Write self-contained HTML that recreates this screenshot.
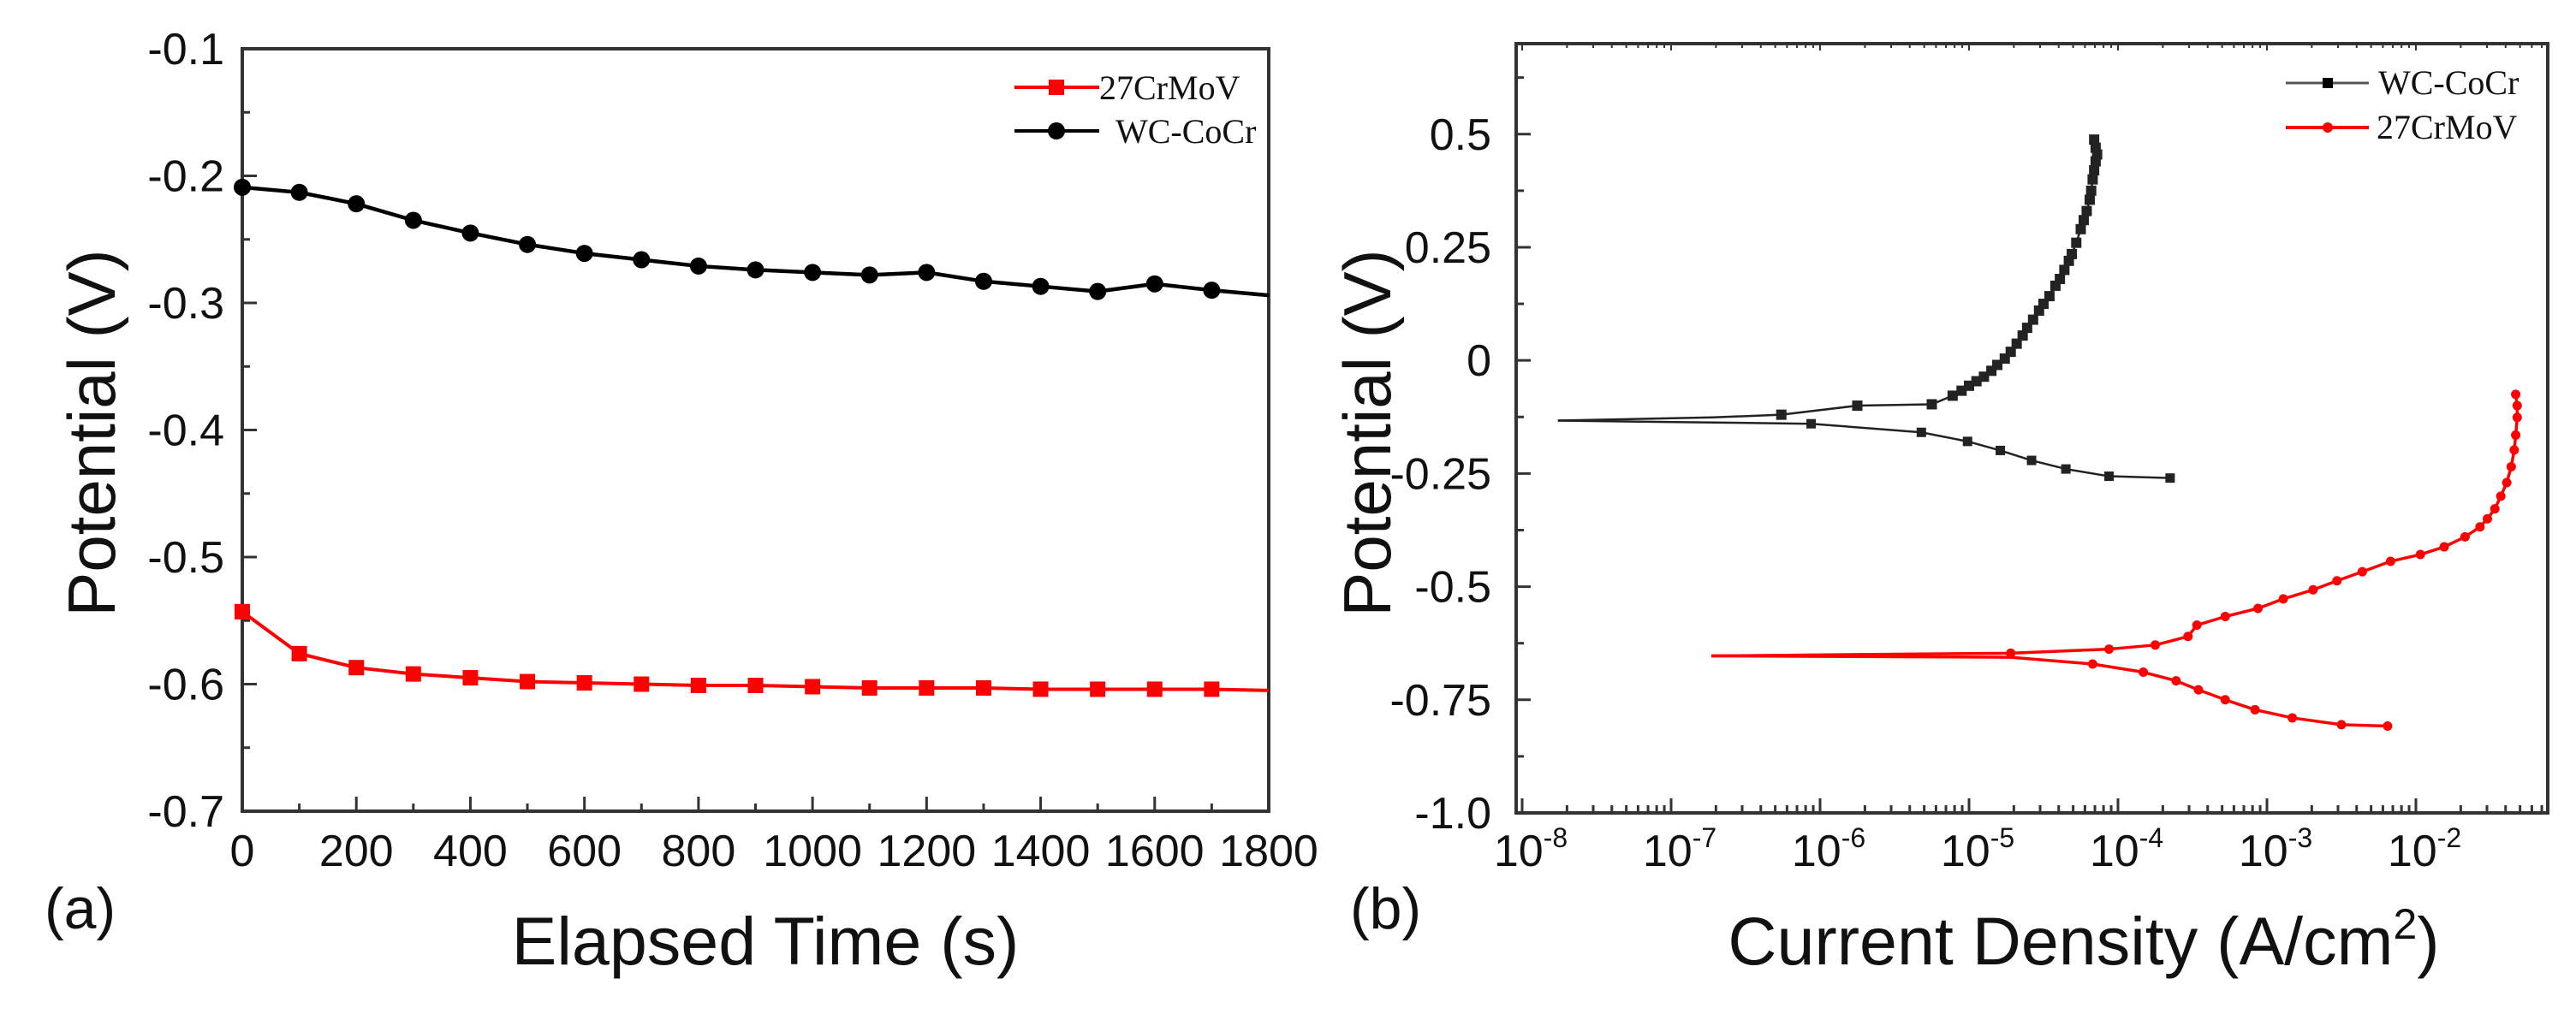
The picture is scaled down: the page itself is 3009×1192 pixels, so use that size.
<!DOCTYPE html>
<html><head><meta charset="utf-8"><style>
html,body{margin:0;padding:0;background:#fff;}
svg{display:block;font-family:"Liberation Sans",Arial,sans-serif;}
.leg{font-family:"Liberation Serif","Times New Roman",serif;}
</style></head><body>
<svg id="fig" width="3009" height="1192" viewBox="0 0 3009 1192">
<g id="pa"></g>
<g id="pb"></g>
</svg>
<script>
// ---- Panel (a) data ----
const aTimes = [0,100,200,300,400,500,600,700,800,900,1000,1100,1200,1300,1400,1500,1600,1700,1800];
const aWC = [-0.209,-0.213,-0.222,-0.235,-0.245,-0.254,-0.261,-0.266,-0.271,-0.274,-0.276,-0.278,-0.276,-0.283,-0.287,-0.291,-0.285,-0.290,-0.294];
const aCr = [-0.543,-0.576,-0.587,-0.592,-0.595,-0.598,-0.599,-0.600,-0.601,-0.601,-0.602,-0.603,-0.603,-0.603,-0.604,-0.604,-0.604,-0.604,-0.605];
const aXTicks = [0,200,400,600,800,1000,1200,1400,1600,1800];
const aYTicks = [-0.1,-0.2,-0.3,-0.4,-0.5,-0.6,-0.7];
// ---- Panel (b) data (x = log10 current density) ----
const bWCcathLog = [-7.76,-6.06,-5.32,-5.01,-4.79,-4.58,-4.35,-4.06,-3.65];
const bWCcathV = [-0.133,-0.140,-0.159,-0.179,-0.199,-0.221,-0.240,-0.256,-0.260];
const bWCanLog = [-7.76,-6.72,-6.26,-5.75,-5.25,-5.11,-5.05,-5.0,-4.95,-4.9,-4.85,-4.81,-4.76,-4.72,-4.68,-4.64,-4.61,-4.57,-4.53,-4.5,-4.46,-4.42,-4.39,-4.36,-4.33,-4.31,-4.28,-4.25,-4.23,-4.21,-4.19,-4.18,-4.17,-4.16,-4.15,-4.14,-4.15,-4.16];
const bWCanV = [-0.133,-0.126,-0.120,-0.100,-0.097,-0.078,-0.067,-0.056,-0.046,-0.036,-0.023,-0.010,0.004,0.019,0.037,0.055,0.072,0.090,0.110,0.125,0.142,0.165,0.180,0.200,0.220,0.235,0.260,0.290,0.310,0.330,0.355,0.375,0.400,0.420,0.440,0.455,0.470,0.488];
const bCrCathLog = [-6.73,-4.72,-4.17,-3.83,-3.61,-3.46,-3.28,-3.08,-2.83,-2.5,-2.19];
const bCrCathV = [-0.653,-0.656,-0.671,-0.689,-0.708,-0.728,-0.750,-0.772,-0.790,-0.805,-0.808];
const bCrAnLog = [-6.73,-4.72,-4.06,-3.75,-3.53,-3.47,-3.28,-3.06,-2.89,-2.69,-2.53,-2.36,-2.17,-1.97,-1.81,-1.67,-1.57,-1.52,-1.47,-1.43,-1.39,-1.36,-1.34,-1.33,-1.32,-1.32,-1.33];
const bCrAnV = [-0.653,-0.647,-0.638,-0.629,-0.610,-0.585,-0.566,-0.548,-0.527,-0.507,-0.487,-0.467,-0.444,-0.429,-0.412,-0.390,-0.368,-0.350,-0.328,-0.300,-0.270,-0.235,-0.198,-0.165,-0.126,-0.100,-0.075];
const bXTicks = [-8,-7,-6,-5,-4,-3,-2];
const bYTicks = [0.5,0.25,0,-0.25,-0.5,-0.75,-1.0];
const bYLabels = ["0.5","0.25","0","-0.25","-0.5","-0.75","-1.0"];

const NS="http://www.w3.org/2000/svg";
function mk(parent,tag,attrs,text){const e=document.createElementNS(NS,tag);for(const k in attrs)e.setAttribute(k,attrs[k]);if(text!==undefined)e.textContent=text;parent.appendChild(e);return e;}

// ================= Panel a =================
const pa=document.getElementById('pa');
const aL=283,aR=1482,aT=57,aB=948;
const ax=t=>aL+(t-0)/(1800-0)*(aR-aL);
const ay=v=>aT+(-0.1-v)/(0.6)*(aB-aT);
let fr=mk(pa,'rect',{x:aL,y:aT,width:aR-aL,height:aB-aT,fill:'none',stroke:'#333',"stroke-width":4});


for(let t=0;t<=1800;t+=100){const maj=t%200===0;
 let l=mk(pa,'line',{x1:ax(t),x2:ax(t),y1:aB,y2:aB-(maj?17:9),stroke:'#333',"stroke-width":3});
 
 }
for(let i=0;i<=12;i++){const v=-0.1-i*0.05;const maj=i%2===0;
 let l=mk(pa,'line',{x1:aL,x2:aL+(maj?17:9),y1:ay(v),y2:ay(v),stroke:'#333',"stroke-width":3});
 
 }
aXTicks.forEach(t=>{let e=mk(pa,'text',{x:ax(t),y:1012,"font-size":52,"text-anchor":"middle",fill:'#111'},String(t));
 
 });
aYTicks.forEach(v=>{let e=mk(pa,'text',{x:262,y:ay(v)+18,"font-size":52,"text-anchor":"end",fill:'#111'},v.toFixed(1));
 
 });
let t1=mk(pa,'text',{x:0,y:0,"font-size":78,"text-anchor":"middle",transform:"translate(134,506) rotate(-90)",fill:'#111'},"Potential (V)");


let t2=mk(pa,'text',{x:894,y:1127,"font-size":79,"text-anchor":"middle",fill:'#111'},"Elapsed Time (s)");


let t3=mk(pa,'text',{x:52,y:1085,"font-size":68,fill:'#111'},"(a)");


function series(g,xs,ys,fx,fy,color,w,marker,size,name,markAll){
 let p=mk(g,'polyline',{points:xs.map((x,i)=>fx(x)+','+fy(ys[i])).join(' '),fill:'none',stroke:color,"stroke-width":w,"stroke-linejoin":"round"});
 
 
 xs.forEach((x,i)=>{ if(!markAll(i))return; let m;
  if(marker==='sq') m=mk(g,'rect',{x:fx(x)-size/2,y:fy(ys[i])-size/2,width:size,height:size,fill:color});
  else m=mk(g,'circle',{cx:fx(x),cy:fy(ys[i]),r:size/2,fill:color});
  
  });
}
series(pa,aTimes,aWC,ax,ay,'#000',4.5,'ci',20,'wc-cocr-a',i=>i<aTimes.length-1);
series(pa,aTimes,aCr,ax,ay,'#f00',4,'sq',18,'27crmov-a',i=>i<aTimes.length-1);
// legend a
let lg=mk(pa,'g',{});


mk(lg,'line',{x1:1185,x2:1284,y1:102,y2:102,stroke:'#f00',"stroke-width":4});
mk(lg,'rect',{x:1225,y:93,width:18,height:18,fill:'#f00'});
let le1=mk(lg,'text',{x:1284,y:116,"font-size":40,class:'leg',fill:'#111'},"27CrMoV");


mk(lg,'line',{x1:1185,x2:1284,y1:153,y2:153,stroke:'#000',"stroke-width":4});
mk(lg,'circle',{cx:1234,cy:153,r:10,fill:'#000'});
let le2=mk(lg,'text',{x:1303,y:167,"font-size":40,class:'leg',fill:'#111'},"WC-CoCr");



// ================= Panel b =================
const pb=document.getElementById('pb');
const bL=1771,bR=2976,bT=51,bB=950;
const bx=lg10=>1778+(lg10+8)*174;
const by=v=>bT+(0.70-v)/1.70*(bB-bT);
let fr2=mk(pb,'rect',{x:bL,y:bT,width:bR-bL,height:bB-bT,fill:'none',stroke:'#333',"stroke-width":4});


for(let d=-8;d<=-2;d++){for(let k=1;k<=9;k++){const lv=d+Math.log10(k);const xx=bx(lv);if(xx>bR)continue;
 let l=mk(pb,'line',{x1:xx,x2:xx,y1:bB,y2:bB-(k===1?17:9),stroke:'#333',"stroke-width":3});
 
 
 let l2=mk(pb,'line',{x1:xx,x2:xx,y1:bT,y2:bT+(k===1?8:5),stroke:'#333',"stroke-width":2});
 
 }}
for(let i=0;i<=13;i++){const v=0.625-i*0.125;const maj=i%2===1;
 let l=mk(pb,'line',{x1:bL,x2:bL+(maj?17:9),y1:by(v),y2:by(v),stroke:'#333',"stroke-width":3});
 
 }
bXTicks.forEach(d=>{let e=mk(pb,'text',{x:bx(d)+10,y:1012,"font-size":52,"text-anchor":"middle",fill:'#111'});
 mk(e,'tspan',{},"10");mk(e,'tspan',{"font-size":32,dy:-22},String(d));
 
 });
bYTicks.forEach((v,i)=>{let e=mk(pb,'text',{x:1742,y:by(v)+18,"font-size":52,"text-anchor":"end",fill:'#111'},bYLabels[i]);
 
 });
let u1=mk(pb,'text',{x:0,y:0,"font-size":78,"text-anchor":"middle",transform:"translate(1624,506) rotate(-90)",fill:'#111'},"Potential (V)");


let u2=mk(pb,'text',{x:2434,y:1127,"font-size":79,"text-anchor":"middle",fill:'#111'});
mk(u2,'tspan',{},"Current Density (A/cm");mk(u2,'tspan',{"font-size":50,dy:-30},"2");mk(u2,'tspan',{dy:30},")");


let u3=mk(pb,'text',{x:1577,y:1085,"font-size":68,fill:'#111'},"(b)");


series(pb,bWCcathLog,bWCcathV,bx,by,'#222',2.5,'sq',11,'wc-cocr-cathodic',i=>i>0);
series(pb,bWCanLog,bWCanV,bx,by,'#222',2.5,'sq',12,'wc-cocr-anodic',i=>i>1);
series(pb,bCrCathLog,bCrCathV,bx,by,'#f00',3.5,'ci',11,'27crmov-cathodic',i=>i>1);
series(pb,bCrAnLog,bCrAnV,bx,by,'#f00',3.5,'ci',11,'27crmov-anodic',i=>i>0);
let lb=mk(pb,'g',{});


mk(lb,'line',{x1:2670,x2:2767,y1:97,y2:97,stroke:'#555',"stroke-width":3});
mk(lb,'rect',{x:2713,y:91,width:12,height:12,fill:'#000'});
let lb1=mk(lb,'text',{x:2778,y:110,"font-size":40,class:'leg',fill:'#111'},"WC-CoCr");


mk(lb,'line',{x1:2670,x2:2767,y1:149,y2:149,stroke:'#f00',"stroke-width":4});
mk(lb,'circle',{cx:2719,cy:149,r:6,fill:'#f00'});
let lb2=mk(lb,'text',{x:2776,y:162,"font-size":40,class:'leg',fill:'#111'},"27CrMoV");


</script>
</body></html>
